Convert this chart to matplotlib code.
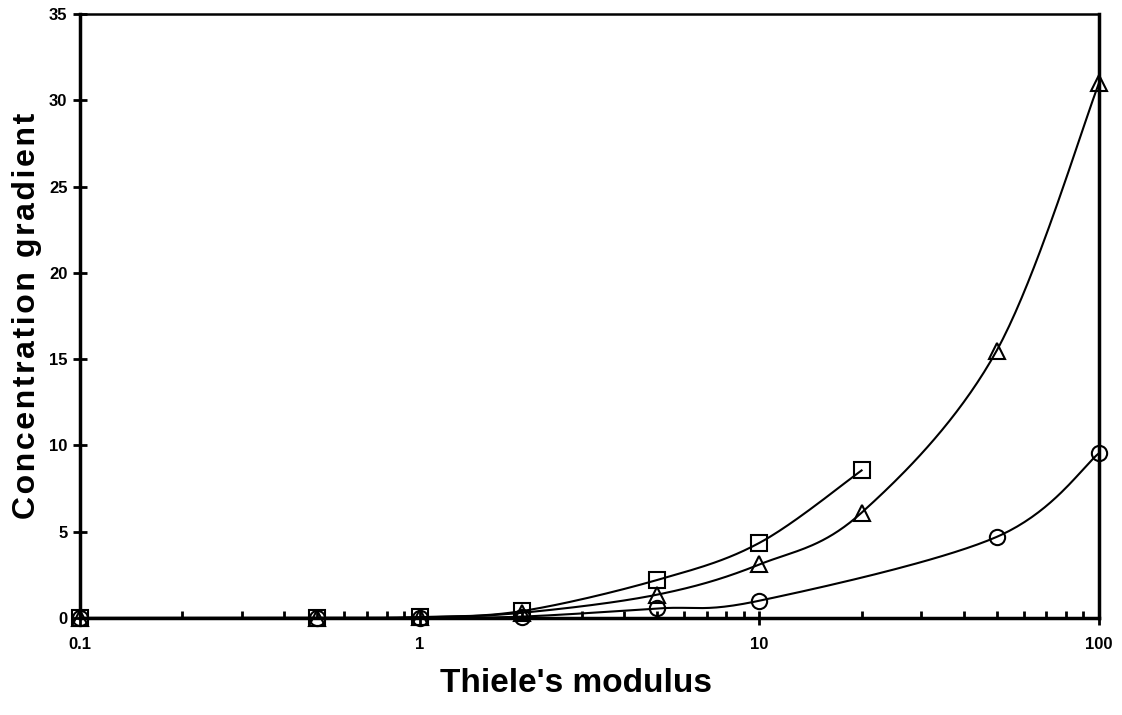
import numpy as np
import matplotlib
matplotlib.use("Agg")
import matplotlib.pyplot as plt
from matplotlib.ticker import FixedLocator, NullFormatter

plt.rcParams['font.family'] = ['Liberation Sans', 'DejaVu Sans']

# Thiele's modulus values and concentration gradients for each series
x_square = [0.1, 0.5, 1, 2, 5, 10, 20]
y_square = [0.0, 0.0, 0.05, 0.4, 2.2, 4.35, 8.55]

x_triangle = [0.1, 0.5, 1, 2, 5, 10, 20, 50, 100]
y_triangle = [0.0, 0.0, 0.03, 0.3, 1.35, 3.1, 6.1, 15.5, 31.0]

x_circle = [0.1, 0.5, 1, 2, 5, 10, 50, 100]
y_circle = [0.0, 0.0, 0.02, 0.08, 0.55, 1.0, 4.7, 9.55]

x_ticks = [0.1, 1, 10, 100]
x_ticklabels = ['0.1', '1', '10', '100']
y_ticks = [0, 5, 10, 15, 20, 25, 30, 35]

# pixel-ish scale factors so smoothing happens in screen space
SX = 339.7
SY = 17.26


def smooth_curve(xs, ys, n=40):
    """Catmull-Rom style bezier smoothing through the points (log-x space)."""
    u = np.log10(np.asarray(xs, float)) * SX
    v = np.asarray(ys, float) * SY
    pts = np.column_stack([u, v])
    out = [pts[0]]
    for i in range(len(pts) - 1):
        p0 = pts[i - 1] if i > 0 else pts[i]
        p1 = pts[i]
        p2 = pts[i + 1]
        p3 = pts[i + 2] if i + 2 < len(pts) else pts[i + 1]
        c1 = p1 + (p2 - p0) / 6.0
        c2 = p2 - (p3 - p1) / 6.0
        t = np.linspace(0, 1, n)[1:, None]
        seg = ((1 - t) ** 3) * p1 + 3 * ((1 - t) ** 2) * t * c1 \
            + 3 * (1 - t) * t ** 2 * c2 + t ** 3 * p2
        out.extend(seg)
    out = np.array(out)
    return 10 ** (out[:, 0] / SX), out[:, 1] / SY


fig = plt.figure(figsize=(11.22, 7.15), dpi=100)
ax = fig.add_axes([0.0713, 0.1357, 0.9082, 0.8447])

series = [
    (x_square, y_square, 's'),
    (x_triangle, y_triangle, '^'),
    (x_circle, y_circle, 'o'),
]
for xs, ys, m in series:
    cx, cy = smooth_curve(xs, ys)
    ax.plot(cx, cy, color='black', linewidth=1.5, zorder=2)
    ax.plot(xs, ys, linestyle='none', marker=m, markersize=11,
            markerfacecolor='none', markeredgecolor='black',
            markeredgewidth=1.5, zorder=3, clip_on=False)

ax.set_xscale('log')
ax.set_xlim(0.1, 100)
ax.set_ylim(0, 35)

ax.xaxis.set_major_locator(FixedLocator(x_ticks))
ax.set_xticklabels(x_ticklabels)
minor = [m * d for d in (0.1, 1, 10) for m in range(2, 10)]
ax.xaxis.set_minor_locator(FixedLocator(minor))
ax.xaxis.set_minor_formatter(NullFormatter())
ax.set_yticks(y_ticks)

ax.tick_params(axis='x', which='major', direction='inout', length=10,
               width=2, labelsize=12, pad=9)
ax.tick_params(axis='x', which='minor', direction='in', length=5, width=2)
ax.tick_params(axis='y', which='major', direction='inout', length=10,
               width=2, labelsize=12, pad=4)
for lab in ax.get_xticklabels() + ax.get_yticklabels():
    lab.set_fontweight('bold')

ax.spines['left'].set_linewidth(2.5)
ax.spines['bottom'].set_linewidth(2.5)
ax.spines['right'].set_linewidth(2.5)
ax.spines['top'].set_linewidth(1.8)

ax.set_xlabel("Thiele's modulus", fontsize=24, fontweight='bold')
ax.xaxis.set_label_coords(0.487, -0.083)

# spaced-out lettering on the y label
ylab = "\u200a".join("Concentration gradient")
ax.set_ylabel(ylab, fontsize=23, fontweight='bold')
ax.yaxis.set_label_coords(-0.037, 0.5)

fig.savefig('out.png', dpi=100)
